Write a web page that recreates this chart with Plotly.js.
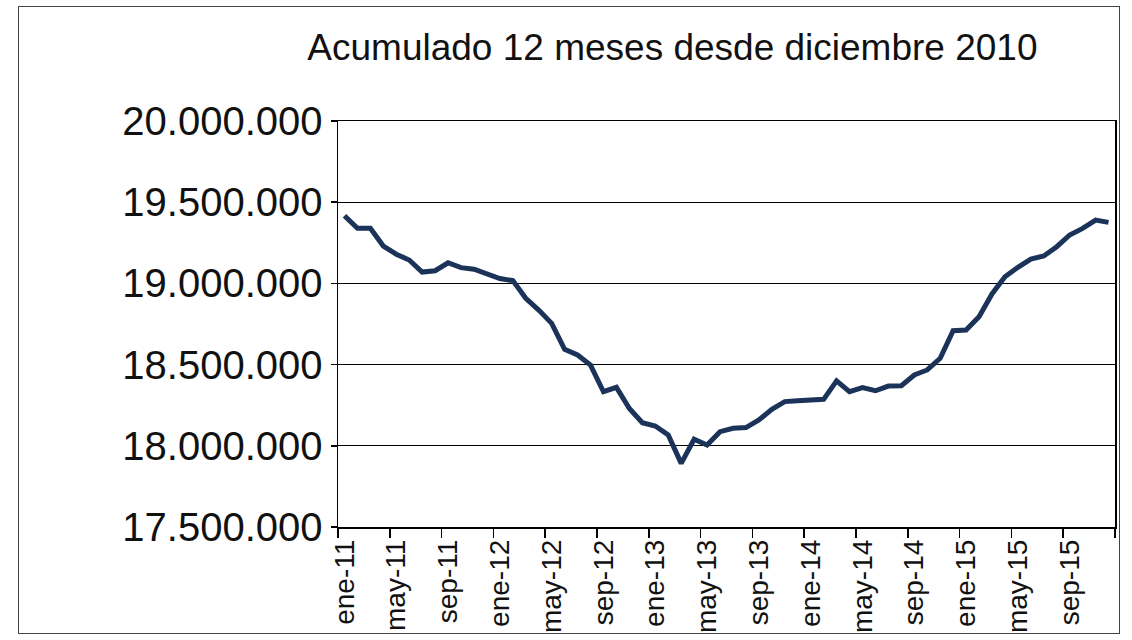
<!DOCTYPE html>
<html>
<head>
<meta charset="utf-8">
<script src="https://cdn.plot.ly/plotly-3.0.1.min.js"></script>
<style>
  html, body { margin: 0; padding: 0; background: #ffffff; }
  #wrap { position: relative; width: 1132px; height: 640px; overflow: hidden; background: #fff; }
  #frame { position: absolute; left: 18px; top: 6px; width: 1102px; height: 628px; border: 1px solid #444; box-sizing: border-box; pointer-events: none; }
  #chart { position: absolute; left: 0; top: 0; width: 1132px; height: 640px; }
</style>
</head>
<body>
<div id="wrap">
  <div id="chart"></div>
  <div id="frame"></div>
</div>
<script>
const months = [
  'ene-11','feb-11','mar-11','abr-11','may-11','jun-11','jul-11','ago-11','sep-11','oct-11','nov-11','dic-11',
  'ene-12','feb-12','mar-12','abr-12','may-12','jun-12','jul-12','ago-12','sep-12','oct-12','nov-12','dic-12',
  'ene-13','feb-13','mar-13','abr-13','may-13','jun-13','jul-13','ago-13','sep-13','oct-13','nov-13','dic-13',
  'ene-14','feb-14','mar-14','abr-14','may-14','jun-14','jul-14','ago-14','sep-14','oct-14','nov-14','dic-14',
  'ene-15','feb-15','mar-15','abr-15','may-15','jun-15','jul-15','ago-15','sep-15','oct-15','nov-15','dic-15'
];
const acumulado12m = [
  19417000, 19339000, 19340000, 19230000, 19180000, 19144000, 19070000, 19078000, 19127000, 19097000, 19087000, 19060000,
  19030000, 19017000, 18908000, 18836000, 18754000, 18594000, 18559000, 18497000, 18333000, 18360000, 18230000, 18142000,
  18122000, 18067000, 17892000, 18040000, 18005000, 18087000, 18108000, 18112000, 18159000, 18225000, 18272000, 18278000,
  18280000, 18286000, 18400000, 18333000, 18358000, 18339000, 18368000, 18370000, 18436000, 18467000, 18539000, 18709000,
  18713000, 18795000, 18935000, 19041000, 19099000, 19150000, 19169000, 19226000, 19298000, 19339000, 19390000, 19376000
];
const chartTitle = 'Acumulado 12 meses desde diciembre 2010';
const yTickVals = [17500000, 18000000, 18500000, 19000000, 19500000, 20000000];

const font = 'Liberation Sans, Arial, sans-serif';

const trace = {
  type: 'scatter',
  mode: 'lines',
  x: months,
  y: acumulado12m,
  line: { color: '#1b3358', width: 5, shape: 'linear' },
  hoverinfo: 'x+y'
};

const layout = {
  width: 1132,
  height: 640,
  margin: { l: 338, r: 17, t: 121, b: 113, pad: 0 },
  paper_bgcolor: 'rgba(0,0,0,0)',
  plot_bgcolor: '#ffffff',
  separators: ',.',
  showlegend: false,
  title: {
    text: chartTitle,
    font: { family: font, size: 37, color: '#111' },
    xref: 'container', x: 0.594, xanchor: 'center',
    yref: 'container', y: 0.927, yanchor: 'middle'
  },
  xaxis: {
    type: 'category',
    tickmode: 'linear', tick0: 0, dtick: 4,
    tickson: 'boundaries',
    ticks: 'outside', ticklen: 9, tickwidth: 1.5, tickcolor: '#000',
    tickangle: -90,
    tickfont: { family: font, size: 28, color: '#111' },
    showgrid: false,
    showline: true, linecolor: '#000', linewidth: 1.5, mirror: true,
    range: [-0.5, 59.5],
    zeroline: false,
    automargin: false
  },
  yaxis: {
    range: [17500000, 20000000],
    tickmode: 'array', tickvals: yTickVals,
    tickformat: ',d',
    ticks: 'outside', ticklen: 6, tickwidth: 1.5, tickcolor: '#000',
    tickfont: { family: font, size: 40, color: '#111' },
    showgrid: true, gridcolor: '#000', gridwidth: 1.2,
    showline: true, linecolor: '#000', linewidth: 1.5, mirror: true,
    zeroline: false,
    automargin: false
  }
};

Plotly.newPlot('chart', [trace], layout, { displayModeBar: false, staticPlot: true });
</script>
</body>
</html>
